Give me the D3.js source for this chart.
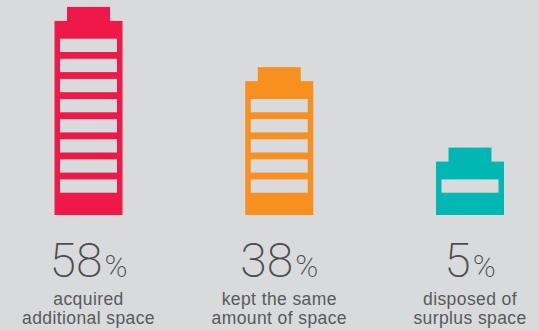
<!DOCTYPE html>
<html>
<head>
<meta charset="utf-8">
<script src="https://cdn.jsdelivr.net/npm/d3@7"></script>
<style>
  body { margin: 0; background: #d9dadb; }
  svg { display: block; }
</style>
</head>
<body>
<div id="chart"></div>
<script>
// data
var categories = ["acquired", "kept", "disposed"];
var values = [58, 38, 5];
var segments = [8, 5, 1];
var labels = [["acquired", "additional space"], ["kept the same", "amount of space"], ["disposed of", "surplus space"]];
var colors = ["#ee1849", "#f7901f", "#00b7b4"];

var width = 539, height = 330, bg = "#d9dadb";

var svg = d3.select("#chart").append("svg")
    .attr("width", width)
    .attr("height", height);

var data = categories.map(function(c, i) {
  return { key: c, value: values[i], n: segments[i], label: labels[i], color: colors[i] };
});

// scales
var x = d3.scalePoint()
    .domain(categories)
    .range([88.5, 470]);

// one unit = one battery bar
var y = d3.scaleLinear()
    .domain([0, 8])
    .range([192.7, 31.9]);

var bodyW = 68, capW = 43, capH = 14, barH = 13.3, inset = 5.5;

var g = svg.selectAll(".battery")
    .data(data)
  .enter().append("g")
    .attr("class", "battery")
    .attr("transform", function(d) { return "translate(" + x(d.key) + ",0)"; });

// cap
g.append("rect")
    .attr("x", -capW / 2)
    .attr("y", function(d) { return y(d.n) - 11 - capH; })
    .attr("width", capW)
    .attr("height", capH + 1)
    .attr("fill", function(d) { return d.color; });

// body
g.append("rect")
    .attr("x", -bodyW / 2)
    .attr("y", function(d) { return y(d.n) - 11; })
    .attr("width", bodyW)
    .attr("height", function(d) { return y(0) + 22.3 - (y(d.n) - 11); })
    .attr("fill", function(d) { return d.color; });

// bars cut out of the body
g.selectAll(".bar")
    .data(function(d) { return d3.range(d.n); })
  .enter().append("rect")
    .attr("class", "bar")
    .attr("x", -bodyW / 2 + inset)
    .attr("y", function(i) { return y(i) - barH; })
    .attr("width", bodyW - 2 * inset)
    .attr("height", barH)
    .attr("fill", bg);

// percentage
var pct = g.append("text")
    .attr("text-anchor", "middle")
    .attr("y", 276.7)
    .attr("fill", "#4d4d4f")
    .style("font-family", "Roboto, 'Liberation Sans', sans-serif")
    .style("font-weight", 200);

pct.append("tspan")
    .style("font-size", "48px")
    .text(function(d) { return d.value; });

pct.append("tspan")
    .style("font-size", "31px")
    .attr("dx", 2)
    .text("%");

// labels
g.each(function(d) {
  d3.select(this).selectAll(".label")
      .data(d.label)
    .enter().append("text")
      .attr("class", "label")
      .attr("text-anchor", "middle")
      .attr("y", function(t, i) { return 305 + i * 19.3; })
      .attr("fill", "#58595b")
      .style("font-family", "'Liberation Sans', Arial, sans-serif")
      .style("font-size", "17.5px")
      .style("letter-spacing", "0.4px")
      .text(function(t) { return t; });
});
</script>
</body>
</html>
